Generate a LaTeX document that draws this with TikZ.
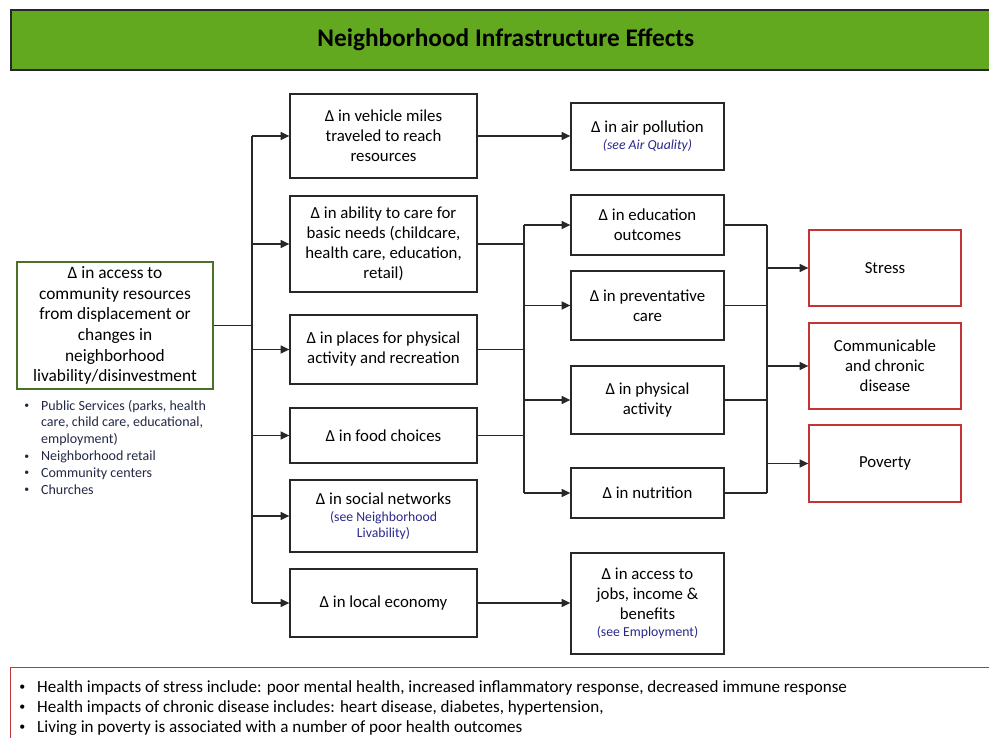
\documentclass[tikz,border=0pt]{standalone}
\usepackage{fontspec}
\setmainfont{Carlito}
\usetikzlibrary{arrows.meta}
\definecolor{titlegreen}{RGB}{99,169,31}
\definecolor{boxgreen}{RGB}{75,112,40}
\definecolor{redbox}{RGB}{196,52,52}
\definecolor{linkblue}{RGB}{40,40,140}
\definecolor{navy}{RGB}{35,40,70}
\definecolor{edge}{RGB}{40,40,40}
\newcommand\seefont{\color{linkblue}\fontsize{10.3}{12}\selectfont}
\newcommand\smbul{\raisebox{0.2ex}{\scalebox{0.7}{\textbullet}}}
\begin{document}
\begin{tikzpicture}[x=0.75pt,y=-0.75pt,
  sz/.style 2 args={minimum width=#1*0.75pt, minimum height=#2*0.75pt},
  box/.style={draw=edge, line width=1pt, align=center, inner sep=1pt,
    font=\fontsize{12.6}{15}\selectfont, text=black},
  redb/.style={box, draw=redbox},
  arr/.style={draw=edge, line width=0.9pt, -{Triangle[length=6.5pt,width=6pt]}},
  ln/.style={draw=edge, line width=0.9pt}
]
\useasboundingbox (0,0) rectangle (989,738);

% title
\node[draw=edge, fill=titlegreen, line width=1.2pt, sz={990}{60}, anchor=north west,
  font=\fontsize{19}{22}\bfseries\selectfont] (title) at (10,9) {Neighborhood Infrastructure Effects};

% left box
\node[box, draw=boxgreen, line width=1.6pt, sz={196}{127}, font=\fontsize{13}{15.5}\selectfont] (L) at (115,325.5)
 {Δ in access to\\community resources\\from displacement or\\changes in\\neighborhood\\livability/disinvestment};
\node[anchor=north west, inner sep=0pt, text=navy, font=\fontsize{10.5}{12.6}\selectfont, align=left] (Llist) at (24,398)
 {\begin{tabular}{@{}l@{\hspace{9pt}}l@{}}
  \smbul & Public Services (parks, health\\
   & care, child care, educational,\\
   & employment)\\
  \smbul & Neighborhood retail\\
  \smbul & Community centers\\
  \smbul & Churches
 \end{tabular}};

% column 1
\node[box, sz={187}{84}] (c1a) at (383.5,136) {Δ in vehicle miles\\traveled to reach\\resources};
\node[box, sz={187}{96}] (c1b) at (383.5,244) {Δ in ability to care for\\basic needs (childcare,\\health care, education,\\retail)};
\node[box, sz={187}{69}] (c1c) at (383.5,349.5) {Δ in places for physical\\activity and recreation};
\node[box, sz={187}{55}] (c1d) at (383.5,435.5) {Δ in food choices};
\node[box, sz={187}{72}] (c1e) at (383.5,516) {Δ in social networks\\[-2pt]{\seefont (see Neighborhood}\\[-3pt]{\seefont Livability)}};
\node[box, sz={187}{68}] (c1f) at (383.5,603) {Δ in local economy};

% column 2
\node[box, sz={153}{67}] (c2a) at (647.5,136.5) {Δ in air pollution\\[-2pt]{\seefont\itshape (see Air Quality)}};
\node[box, sz={153}{60}] (c2b) at (647.5,225) {Δ in education\\outcomes};
\node[box, sz={153}{69}] (c2c) at (647.5,305.5) {Δ in preventative\\care};
\node[box, sz={153}{68}] (c2d) at (647.5,400) {Δ in physical\\activity};
\node[box, sz={153}{50}] (c2e) at (647.5,493) {Δ in nutrition};
\node[box, sz={153}{101}] (c2f) at (647.5,603.5) {Δ in access to\\jobs, income \&\\benefits\\[-2pt]{\seefont (see Employment)}};

% outcomes
\node[redb, sz={152}{76}] (r1) at (885,268) {Stress};
\node[redb, sz={152}{86}] (r2) at (885,366) {Communicable\\and chronic\\disease};
\node[redb, sz={152}{77}] (r3) at (885,463.5) {Poverty};

% bottom box
\node[draw=redbox, line width=1pt, sz={990}{80}, anchor=north west, inner sep=0pt] (bot) at (10,667) {};
\node[anchor=north west, inner sep=0pt, font=\fontsize{12.8}{15}\selectfont, align=left] (botlist) at (19,678)
 {\begin{tabular}{@{}l@{\hspace{9pt}}l@{}}
  \smbul & Health impacts of stress include: poor mental health, increased inflammatory response, decreased immune response\\
  \smbul & Health impacts of chronic disease includes: heart disease, diabetes, hypertension,\\
  \smbul & Living in poverty is associated with a number of poor health outcomes
 \end{tabular}};

% trunk
\coordinate (t1) at (252,136);
\coordinate (t6) at (252,603);
\draw[ln] (L.east) -- (L.east -| t1);
\draw[ln] (t1) -- (t6);
\foreach \n in {c1a,c1b,c1c,c1d,c1e,c1f} \draw[arr] (\n.west -| t1) -- (\n.west);

% direct links
\draw[arr] (c1a.east) -- (c1a.east -| c2a.west);
\draw[arr] (c1f.east) -- (c1f.east -| c2f.west);

% bus 1
\coordinate (b1) at (524,225);
\coordinate (b1e) at (524,493);
\draw[ln] (b1) -- (b1e);
\foreach \n in {c1b,c1c,c1d} \draw[ln] (\n.east) -- (\n.east -| b1);
\foreach \n in {c2b,c2c,c2d,c2e} \draw[arr] (\n.west -| b1) -- (\n.west);

% bus 2
\coordinate (b2) at (767,225);
\coordinate (b2e) at (767,493);
\draw[ln] (b2) -- (b2e);
\foreach \n in {c2b,c2c,c2d,c2e} \draw[ln] (\n.east) -- (\n.east -| b2);
\foreach \n in {r1,r2,r3} \draw[arr] (\n.west -| b2) -- (\n.west);
\end{tikzpicture}
\end{document}
